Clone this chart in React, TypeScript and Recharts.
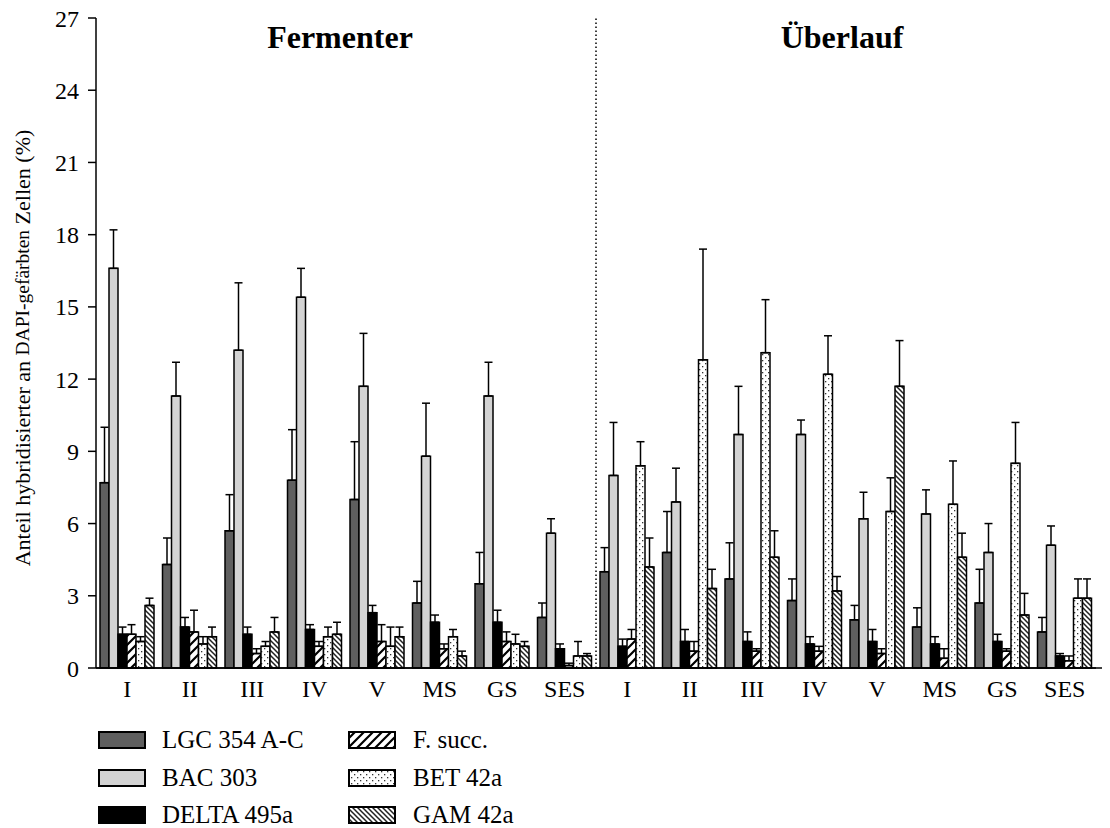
import React from "react";
import {
  BarChart,
  Bar,
  XAxis,
  YAxis,
  ErrorBar,
  ReferenceLine,
  ReferenceArea,
} from "recharts";

// ---------- data ----------
const categories = ["I", "II", "III", "IV", "V", "MS", "GS", "SES", "I", "II", "III", "IV", "V", "MS", "GS", "SES"];
const groupTitles = ["Fermenter", "Überlauf"];
const yTicks = [0, 3, 6, 9, 12, 15, 18, 21, 24, 27];
const seriesNames = ["LGC 354 A-C", "BAC 303", "DELTA 495a", "F. succ.", "BET 42a", "GAM 42a"];

const lgc = [7.7, 4.3, 5.7, 7.8, 7.0, 2.7, 3.5, 2.1, 4.0, 4.8, 3.7, 2.8, 2.0, 1.7, 2.7, 1.5];
const lgcSd = [2.3, 1.1, 1.5, 2.1, 2.4, 0.9, 1.3, 0.6, 1.0, 1.7, 1.5, 0.9, 0.6, 0.8, 1.4, 0.6];
const bac = [16.6, 11.3, 13.2, 15.4, 11.7, 8.8, 11.3, 5.6, 8.0, 6.9, 9.7, 9.7, 6.2, 6.4, 4.8, 5.1];
const bacSd = [1.6, 1.4, 2.8, 1.2, 2.2, 2.2, 1.4, 0.6, 2.2, 1.4, 2.0, 0.6, 1.1, 1.0, 1.2, 0.8];
const delta = [1.4, 1.7, 1.4, 1.6, 2.3, 1.9, 1.9, 0.8, 0.9, 1.1, 1.1, 1.0, 1.1, 1.0, 1.1, 0.5];
const deltaSd = [0.3, 0.4, 0.3, 0.2, 0.3, 0.3, 0.5, 0.2, 0.3, 0.5, 0.4, 0.3, 0.5, 0.3, 0.3, 0.1];
const fsucc = [1.4, 1.5, 0.6, 0.9, 1.1, 0.8, 1.1, 0.1, 1.2, 0.7, 0.7, 0.7, 0.6, 0.4, 0.7, 0.3];
const fsuccSd = [0.4, 0.9, 0.2, 0.2, 0.7, 0.2, 0.4, 0.1, 0.4, 0.4, 0.1, 0.2, 0.2, 0.4, 0.1, 0.2];
const bet = [1.1, 1.0, 0.9, 1.3, 0.9, 1.3, 1.0, 0.5, 8.4, 12.8, 13.1, 12.2, 6.5, 6.8, 8.5, 2.9];
const betSd = [0.2, 0.3, 0.2, 0.4, 0.8, 0.3, 0.4, 0.6, 1.0, 4.6, 2.2, 1.6, 1.4, 1.8, 1.7, 0.8];
const gam = [2.6, 1.3, 1.5, 1.4, 1.3, 0.5, 0.9, 0.5, 4.2, 3.3, 4.6, 3.2, 11.7, 4.6, 2.2, 2.9];
const gamSd = [0.3, 0.4, 0.6, 0.5, 0.4, 0.2, 0.2, 0.1, 1.2, 0.8, 1.1, 0.6, 1.9, 1.0, 0.9, 0.8];

const data = categories.map((c, i) => ({
  key: String(i),
  label: c,
  lgc: lgc[i],
  lgcErr: [0, lgcSd[i]],
  bac: bac[i],
  bacErr: [0, bacSd[i]],
  delta: delta[i],
  deltaErr: [0, deltaSd[i]],
  fsucc: fsucc[i],
  fsuccErr: [0, fsuccSd[i]],
  bet: bet[i],
  betErr: [0, betSd[i]],
  gam: gam[i],
  gamErr: [0, gamSd[i]],
}));

// ---------- styles ----------
const FONT = "'Liberation Serif', 'Times New Roman', serif";
const seriesKeys = ["lgc", "bac", "delta", "fsucc", "bet", "gam"];
const seriesFills = ["#5f5f5f", "#d3d3d3", "#000000", "url(#pFsucc)", "url(#pBet)", "url(#pGam)"];
const legendFills = ["#5f5f5f", "#d3d3d3", "#000000", "url(#lFsucc)", "url(#lBet)", "url(#lGam)"];

function Patterns({ prefix }: { prefix: string }) {
  return (
    <defs>
      <pattern id={`${prefix}Fsucc`} patternUnits="userSpaceOnUse" width="9" height="9">
        <rect width="9" height="9" fill="#fff" />
        <path d="M-1,10 L10,-1 M-3,3 L3,-3 M6,12 L12,6" stroke="#000" strokeWidth="2.2" />
      </pattern>
      <pattern id={`${prefix}Bet`} patternUnits="userSpaceOnUse" width="6" height="6">
        <rect width="6" height="6" fill="#fff" />
        <rect x="1" y="1" width="1.3" height="1.3" fill="#333" />
        <rect x="4" y="4" width="1.3" height="1.3" fill="#333" />
      </pattern>
      <pattern id={`${prefix}Gam`} patternUnits="userSpaceOnUse" width="5" height="5">
        <rect width="5" height="5" fill="#fff" />
        <path d="M0,0 L5,5 M-1,4 L1,6 M4,-1 L6,1" stroke="#222" strokeWidth="1.5" />
      </pattern>
    </defs>
  );
}

const YLabel = (props: any) => {
  const vb = props.viewBox || { x: 0, y: 0, width: 0, height: 0 };
  const cx = vb.x + 14;
  const cy = 340;
  return (
    <text
      x={cx}
      y={cy}
      transform={`rotate(-90, ${cx}, ${cy})`}
      textAnchor="middle"
      dominantBaseline="central"
      fontFamily={FONT}
      fontSize={22}
      fill="#000"
    >
      Anteil hybridisierter an <tspan fontSize={19.5}>DAPI-gefärbten</tspan> Zellen (%)
    </text>
  );
};

const makeTitle = (title: string, dx: number) => (props: any) => {
  const vb = props.viewBox || { x: 0, y: 0, width: 0, height: 0 };
  return (
    <text
      x={vb.x + vb.width / 2 + dx}
      y={vb.y + 30}
      textAnchor="middle"
      fontFamily={FONT}
      fontSize={32}
      fontWeight="bold"
      fill="#000"
    >
      {title}
    </text>
  );
};

// x-axis line runs on a little past the last group, as in the reference
const ExtendedBaseline = (p: any) => (
  <line x1={p.x1} y1={p.y1} x2={p.x2 + 14} y2={p.y2} stroke="#000" strokeWidth={1.5} />
);

function LegendBlock() {
  const cols = [
    { sx: 91, tx: 154 },
    { sx: 341, tx: 405 },
  ];
  const rowBase = [740, 778, 815];
  return (
    <svg
      width={1102}
      height={820}
      style={{ position: "absolute", left: 0, top: 0, pointerEvents: "none" }}
    >
      <Patterns prefix="l" />
      {seriesNames.map((name, i) => {
        const col = cols[Math.floor(i / 3)];
        const base = rowBase[i % 3];
        return (
          <g key={name}>
            <rect
              x={col.sx}
              y={base - 16}
              width={46}
              height={16}
              fill={legendFills[i]}
              stroke="#000"
              strokeWidth={2}
            />
            <text x={col.tx} y={base} fontFamily={FONT} fontSize={25} fill="#000">
              {name}
            </text>
          </g>
        );
      })}
    </svg>
  );
}

export default function App() {
  return (
    <div style={{ position: "relative", width: 1102, height: 820 }}>
      <svg width={0} height={0} style={{ position: "absolute" }}>
        <Patterns prefix="p" />
      </svg>
      <BarChart
        width={1102}
        height={700}
        data={data}
        margin={{ top: 10, right: 14, left: 0, bottom: 10 }}
        barCategoryGap={4}
        barGap={0}
      >
        <XAxis
          dataKey="key"
          tickFormatter={(v: any) => categories[Number(v)]}
          interval={0}
          height={30}
          tickLine={false}
          axisLine={{ stroke: "#000", strokeWidth: 1.5 }}
          tick={{ fill: "#000", fontSize: 24, fontFamily: FONT }}
          tickMargin={6}
        />
        <YAxis
          domain={[0, 27]}
          ticks={yTicks}
          width={88}
          interval={0}
          tickSize={8}
          tickMargin={9}
          axisLine={{ stroke: "#000", strokeWidth: 1.5 }}
          tickLine={{ stroke: "#000", strokeWidth: 1.5 }}
          tick={{ fill: "#000", fontSize: 24, fontFamily: FONT }}
          label={<YLabel />}
        />
        <ReferenceArea
          x1="0"
          x2="7"
          y1={0}
          y2={27}
          fill="none"
          fillOpacity={0}
          stroke="none"
          label={makeTitle(groupTitles[0], -6)}
        />
        <ReferenceArea
          x1="8"
          x2="15"
          y1={0}
          y2={27}
          fill="none"
          fillOpacity={0}
          stroke="none"
          label={makeTitle(groupTitles[1], -4)}
        />
        <ReferenceLine
          x="8"
          position="start"
          stroke="#000"
          strokeWidth={1.5}
          strokeDasharray="1.5 2.5"
        />
        <ReferenceLine y={0} ifOverflow="visible" shape={ExtendedBaseline} />
        {seriesKeys.map((k, i) => (
          <Bar
            key={k}
            dataKey={k}
            name={seriesNames[i]}
            fill={seriesFills[i]}
            stroke="#000"
            strokeWidth={1.5}
            isAnimationActive={false}
          >
            <ErrorBar
              dataKey={`${k}Err`}
              direction="y"
              width={4}
              stroke="#000"
              strokeWidth={1.5}
            />
          </Bar>
        ))}
      </BarChart>
      <LegendBlock />
    </div>
  );
}
